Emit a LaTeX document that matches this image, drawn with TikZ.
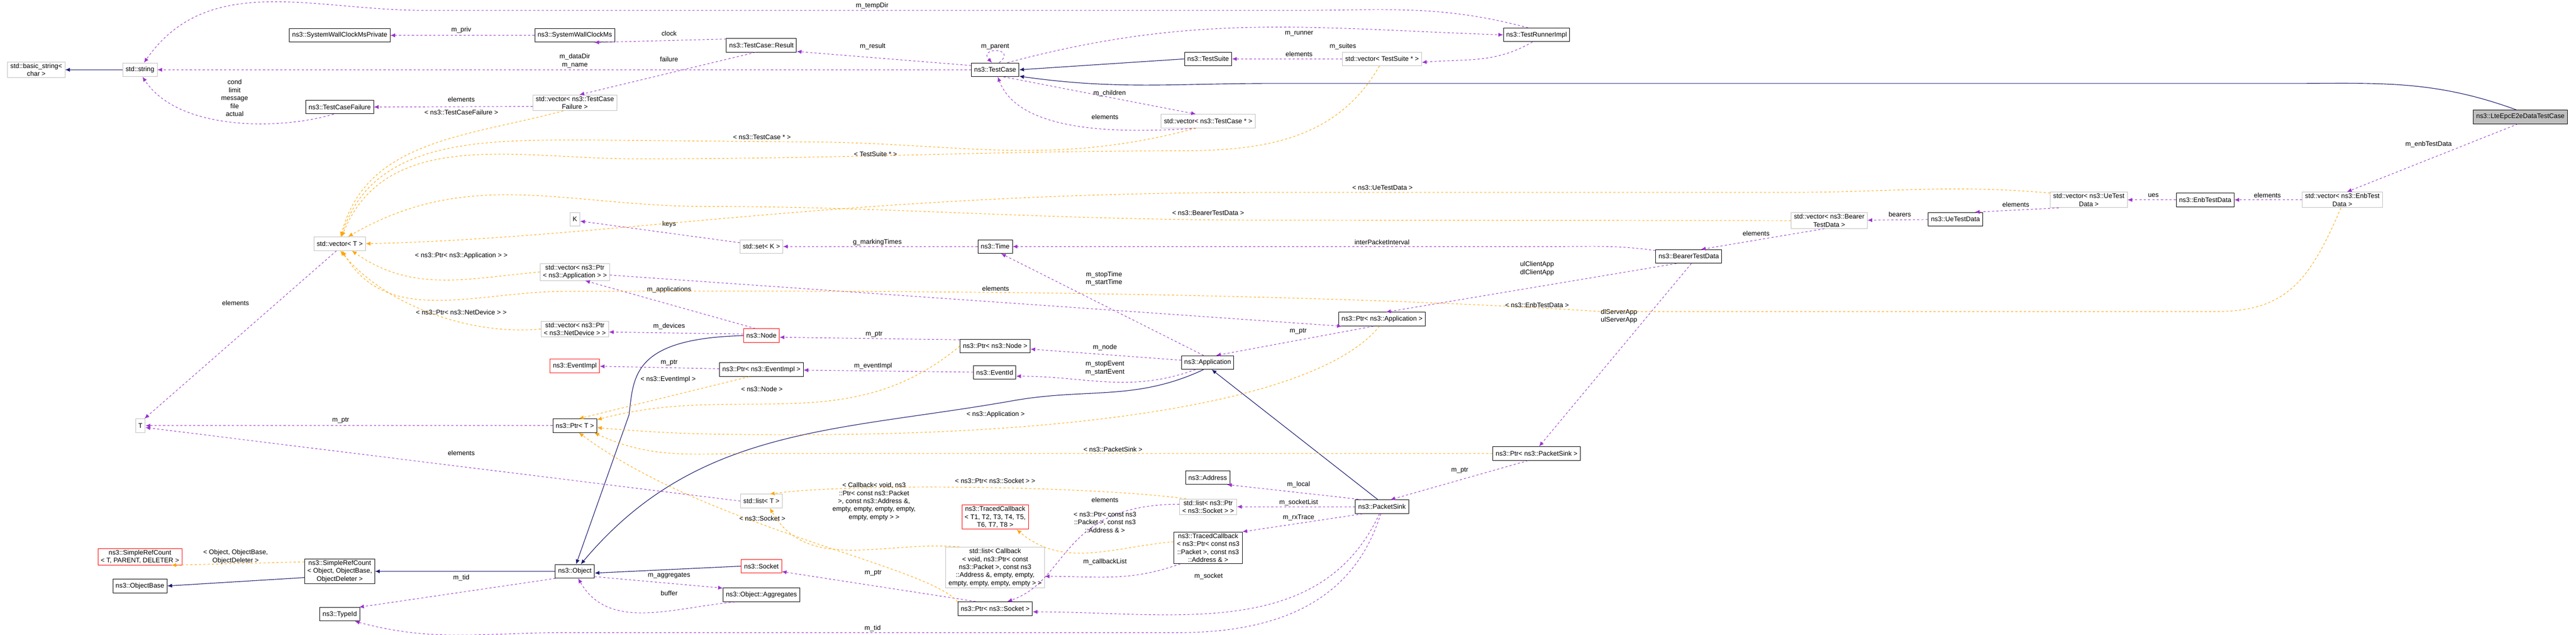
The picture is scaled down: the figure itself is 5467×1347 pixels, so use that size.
\documentclass[tikz,border=0pt]{standalone}
\usepackage{fontspec}
\setmainfont{Liberation Sans}
\usetikzlibrary{arrows.meta, positioning}
\definecolor{usecol}{HTML}{9A32CD}
\definecolor{inhcol}{HTML}{191970}
\definecolor{tplcol}{HTML}{FFA500}
\definecolor{undoc}{HTML}{BFBFBF}
\newcommand{\dx}{\fontsize{8pt}{9.6pt}\selectfont}
\tikzset{
  box/.style={rectangle, draw=black, fill=white, font=\dx, inner xsep=0.12cm, inner ysep=0.06cm, minimum height=0.58cm, align=center, line width=0.6pt},
  tbox/.style={box, draw=undoc},
  rbox/.style={box, draw=red},
  sbox/.style={box, fill=undoc},
  lbl/.style={font=\dx, align=center, inner sep=0pt, fill=none},
  use/.style={draw=usecol, line width=0.6pt, dash pattern=on 2.6pt off 2.6pt, -{Latex[length=0.2cm,width=0.17cm]}},
  inh/.style={draw=inhcol, line width=0.7pt, -{Latex[length=0.2cm,width=0.17cm]}},
  inst/.style={draw=tplcol, line width=0.6pt, dash pattern=on 2.6pt off 2.6pt, -{Latex[length=0.2cm,width=0.17cm]}}
}
\begin{document}
\begin{tikzpicture}[x=0.02cm, y=-0.02cm]
\useasboundingbox (0,0) rectangle (5467,1347);
% classes
\node[tbox] (basicstr) at (77,148) {std::basic\_string\textless\\char \textgreater};
\node[tbox] (stdstr) at (297,148) {std::string};
\node[box] (swcpriv) at (721,75) {ns3::SystemWallClockMsPrivate};
\node[box] (swc) at (1220,75) {ns3::SystemWallClockMs};
\node[box] (tcfail) at (721,227) {ns3::TestCaseFailure};
\node[tbox] (vtcfail) at (1220,218) {std::vector\textless{} ns3::TestCase\\Failure \textgreater};
\node[tbox] (vecT) at (721,517) {std::vector\textless{} T \textgreater};
\node[tbox] (kk) at (1220,465) {K};
\node[tbox] (vptrapp) at (1220,577) {std::vector\textless{} ns3::Ptr\\\textless{} ns3::Application \textgreater{} \textgreater};
\node[tbox] (vptrdev) at (1220,698) {std::vector\textless{} ns3::Ptr\\\textless{} ns3::NetDevice \textgreater{} \textgreater};
\node[rbox] (evimpl) at (1220,776) {ns3::EventImpl};
\node[tbox] (tt) at (298,903) {T};
\node[box] (ptrT) at (1220,903) {ns3::Ptr\textless{} T \textgreater};
\node[rbox] (srcT) at (297,1181) {ns3::SimpleRefCount\\\textless{} T, PARENT, DELETER \textgreater};
\node[box] (srcObj) at (721,1212) {ns3::SimpleRefCount\\\textless{} Object, ObjectBase,\\ObjectDeleter \textgreater};
\node[box] (objbase) at (297,1243) {ns3::ObjectBase};
\node[box] (obj) at (1220,1212) {ns3::Object};
\node[box] (typeid) at (721,1303) {ns3::TypeId};
\node[box] (tcresult) at (1616,96) {ns3::TestCase::Result};
\node[box] (testcase) at (2112,148) {ns3::TestCase};
\node[box] (testsuite) at (2564,125) {ns3::TestSuite};
\node[tbox] (vtcptr) at (2564,257) {std::vector\textless{} ns3::TestCase * \textgreater};
\node[tbox] (setk) at (1616,523) {std::set\textless{} K \textgreater};
\node[box] (ttime) at (2112,523) {ns3::Time};
\node[rbox] (node) at (1616,712) {ns3::Node};
\node[box] (ptrnode) at (2112,734) {ns3::Ptr\textless{} ns3::Node \textgreater};
\node[box] (ptrevimpl) at (1616,784) {ns3::Ptr\textless{} ns3::EventImpl \textgreater};
\node[box] (eventid) at (2111,790) {ns3::EventId};
\node[box] (app) at (2563,769) {ns3::Application};
\node[box] (address) at (2563,1013) {ns3::Address};
\node[tbox] (listT) at (1616,1063) {std::list\textless{} T \textgreater};
\node[tbox] (lptrsock) at (2564,1075) {std::list\textless{} ns3::Ptr\\\textless{} ns3::Socket \textgreater{} \textgreater};
\node[rbox] (tcbT) at (2112,1097) {ns3::TracedCallback\\\textless{} T1, T2, T3, T4, T5,\\T6, T7, T8 \textgreater};
\node[box] (tcbpkt) at (2564,1162) {ns3::TracedCallback\\\textless{} ns3::Ptr\textless{} const ns3\\::Packet \textgreater, const ns3\\::Address \& \textgreater};
\node[tbox] (lcallback) at (2112,1204) {std::list\textless{} Callback\\\textless{} void, ns3::Ptr\textless{} const\\ns3::Packet \textgreater, const ns3\\::Address \&, empty, empty,\\empty, empty, empty, empty \textgreater{} \textgreater};
\node[rbox] (socket) at (1616,1201) {ns3::Socket};
\node[box] (objaggr) at (1616,1262) {ns3::Object::Aggregates};
\node[box] (ptrsock) at (2112,1291) {ns3::Ptr\textless{} ns3::Socket \textgreater};
\node[box] (trimpl) at (3261,74) {ns3::TestRunnerImpl};
\node[tbox] (vtsptr) at (2933,125) {std::vector\textless{} TestSuite * \textgreater};
\node[tbox] (vbearer) at (3882,468) {std::vector\textless{} ns3::Bearer\\TestData \textgreater};
\node[box] (bearertd) at (3584,544) {ns3::BearerTestData};
\node[box] (ptrapp) at (2933,677) {ns3::Ptr\textless{} ns3::Application \textgreater};
\node[box] (ptrsink) at (3261,962) {ns3::Ptr\textless{} ns3::PacketSink \textgreater};
\node[box] (psink) at (2933,1075) {ns3::PacketSink};
\node[sbox] (lte) at (5349,248) {ns3::LteEpcE2eDataTestCase};
\node[tbox] (venb) at (4971,424) {std::vector\textless{} ns3::EnbTest\\Data \textgreater};
\node[box] (enbtd) at (4680,424) {ns3::EnbTestData};
\node[tbox] (vue) at (4433,424) {std::vector\textless{} ns3::UeTest\\Data \textgreater};
\node[box] (uetd) at (4150,465) {ns3::UeTestData};
% inheritance
\draw[inh] (stdstr) -- (basicstr);
\draw[inh] (testsuite.west) -- (testcase.east);
\draw[inh] (lte.120) to[out=160,in=0] (4860,177) -- (2700,177) to[out=180,in=-8] (testcase.-15);
\draw[inh] (node.west) .. controls (1340,718) and (1345,800) .. (1335,880) -- (obj.80);
\draw[inh] (app.-120) to[out=205,in=10] (2150,850) to[out=190,in=50] (obj.50);
\draw[inh] (socket.west) -- (obj.-5);
\draw[inh] (psink.120) -- (app.-60);
\draw[inh] (obj) -- (srcObj);
\draw[inh] (srcObj.-170) -- (objbase.east);
% usage
\draw[use] (trimpl.140) to[out=165,in=0] (2750,22) -- (900,22) to[out=180,in=55] (stdstr.60) node[lbl, at={(1851,12)}] {m\_tempDir};
\draw[use] (swc) -- (swcpriv) node[lbl, at={(979,64)}] {m\_priv};
\draw[use] (tcresult.170) -- (swc.-20) node[lbl, at={(1420,71)}] {clock};
\draw[use] (testcase) -- (stdstr) node[lbl, at={(1220,129)}] {m\_dataDir\\m\_name};
\draw[use] (tcresult.-130) -- (vtcfail.60) node[lbl, at={(1420,126)}] {failure};
\draw[use] (vtcfail.-175) -- (tcfail.east) node[lbl, at={(979,211)}] {elements};
\draw[use] (tcfail.-130) .. controls (600,275) and (380,280) .. (stdstr.-70) node[lbl, at={(498,208)}] {cond\\limit\\message\\file\\actual};
\draw[use] (testcase.170) -- (tcresult.-10) node[lbl, at={(1852,99)}] {m\_result};
\draw[use] (testcase.60) .. controls (2160,100) and (2075,100) .. (testcase.115) node[lbl, at={(2112,99)}] {m\_parent};
\draw[use] (testcase.30) to[out=15,in=178] (trimpl.west) node[lbl, at={(2757,71)}] {m\_runner};
\draw[use] (vtsptr) -- (testsuite) node[lbl, at={(2757,115)}] {elements};
\draw[use] (trimpl.-120) to[out=210,in=5] (vtsptr.-5) node[lbl, at={(2850,99)}] {m\_suites};
\draw[use] (testcase.-40) -- (vtcptr.150) node[lbl, at={(2355,198)}] {m\_children};
\draw[use] (vtcptr.-150) .. controls (2350,285) and (2160,275) .. (testcase.-70) node[lbl, at={(2345,248)}] {elements};
\draw[use] (lte.-110) -- (venb.60) node[lbl, at={(5154,306)}] {m\_enbTestData};
\draw[use] (venb) -- (enbtd) node[lbl, at={(4812,414)}] {elements};
\draw[use] (enbtd) -- (vue) node[lbl, at={(4570,414)}] {ues};
\draw[use] (vue.-165) -- (uetd.20) node[lbl, at={(4278,434)}] {elements};
\draw[use] (uetd) -- (vbearer) node[lbl, at={(4032,455)}] {bearers};
\draw[use] (vbearer.-120) -- (bearertd.30) node[lbl, at={(3727,495)}] {elements};
\draw[use] (bearertd.170) to[out=172,in=0] (3300,523) -- (ttime.east) node[lbl, at={(2933,514)}] {interPacketInterval};
\draw[use] (ttime) -- (setk) node[lbl, at={(1862,514)}] {g\_markingTimes};
\draw[use] (setk.170) -- (kk.-20) node[lbl, at={(1420,476)}] {keys};
\draw[use] (app.120) -- (ttime.-50) node[lbl, at={(2343,591)}] {m\_stopTime\\m\_startTime};
\draw[use] (bearertd.-150) -- (ptrapp.60) node[lbl, at={(3262,570)}] {ulClientApp\\dlClientApp};
\draw[use] (bearertd.-70) -- (ptrsink.70) node[lbl, at={(3436,671)}] {dlServerApp\\ulServerApp};
\draw[use] (vptrapp.-5) -- (ptrapp.-170) node[lbl, at={(2113,612)}] {elements};
\draw[use] (ptrapp.-140) -- (app.40) node[lbl, at={(2755,703)}] {m\_ptr};
\draw[use] (node.130) -- (vptrapp.-40) node[lbl, at={(1420,615)}] {m\_applications};
\draw[use] (node.175) -- (vptrdev.-5) node[lbl, at={(1420,692)}] {m\_devices};
\draw[use] (ptrnode.170) -- (node.-5) node[lbl, at={(1855,709)}] {m\_ptr};
\draw[use] (app.175) -- (ptrnode.-5) node[lbl, at={(2345,737)}] {m\_node};
\draw[use] (app.-150) to[out=200,in=0] (eventid.-10) node[lbl, at={(2345,781)}] {m\_stopEvent\\m\_startEvent};
\draw[use] (eventid) -- (ptrevimpl) node[lbl, at={(1853,776)}] {m\_eventImpl};
\draw[use] (ptrevimpl) -- (evimpl) node[lbl, at={(1420,769)}] {m\_ptr};
\draw[use] (ptrT) -- (tt) node[lbl, at={(723,892)}] {m\_ptr};
\draw[use] (listT.west) -- (tt.-20) node[lbl, at={(979,961)}] {elements};
\draw[use] (vecT.-115) -- (tt.60) node[lbl, at={(500,643)}] {elements};
\draw[use] (obj.-160) -- (typeid.20) node[lbl, at={(979,1226)}] {m\_tid};
\draw[use] (psink.-100) .. controls (2880,1250) and (2750,1342) .. (2500,1342) -- (1200,1342) to[out=180,in=-15] (typeid.-25) node[lbl, at={(1852,1333)}] {m\_tid};
\draw[use] (obj.-15) -- (objaggr.170) node[lbl, at={(1420,1221)}] {m\_aggregates};
\draw[use] (objaggr.-165) to[out=185,in=-60] (obj.-65) node[lbl, at={(1420,1258)}] {buffer};
\draw[use] (ptrsock.160) -- (socket.-15) node[lbl, at={(1853,1215)}] {m\_ptr};
\draw[use] (psink.-110) to[out=-115,in=0] (ptrsock.-5) node[lbl, at={(2565,1223)}] {m\_socket};
\draw[use] (lptrsock.175) .. controls (2250,1070) and (2270,1230) .. (ptrsock.30) node[lbl, at={(2345,1061)}] {elements};
\draw[use] (tcbpkt.-150) to[out=200,in=0] (lcallback.-10) node[lbl, at={(2345,1192)}] {m\_callbackList};
\draw[use] (psink.160) -- (address.-20) node[lbl, at={(2756,1028)}] {m\_local};
\draw[use] (psink) -- (lptrsock) node[lbl, at={(2756,1066)}] {m\_socketList};
\draw[use] (psink.-160) -- (tcbpkt.25) node[lbl, at={(2756,1098)}] {m\_rxTrace};
\draw[use] (ptrsink.-140) -- (psink.40) node[lbl, at={(3098,998)}] {m\_ptr};
% templates
\draw[inst] (srcObj.165) -- (srcT.-15) node[lbl, at={(500,1181)}] {\textless{} Object, ObjectBase,\\ObjectDeleter \textgreater};
\draw[inst] (vtcfail.-145) to[out=195,in=75] (vecT.82) node[lbl, at={(979,238)}] {\textless{} ns3::TestCaseFailure \textgreater};
\draw[inst] (vtcptr.-150) to[out=195,in=0] (1700,301) -- (1250,297) to[out=180,in=72] (vecT.78) node[lbl, at={(1617,291)}] {\textless{} ns3::TestCase * \textgreater};
\draw[inst] (vtsptr.-110) to[out=240,in=0] (2500,320) .. controls (2100,320) and (1800,337) .. (1350,337) to[out=180,in=68] (vecT.74) node[lbl, at={(1858,327)}] {\textless{} TestSuite * \textgreater};
\draw[inst] (vue.170) to[out=175,in=0] (3800,408) -- (2700,408) .. controls (1800,408) and (1300,505) .. (vecT.east) node[lbl, at={(2934,398)}] {\textless{} ns3::UeTestData \textgreater};
\draw[inst] (vbearer.west) -- (2700,467) .. controls (2200,467) and (1900,438) .. (1500,438) to[out=180,in=30] (vecT.40) node[lbl, at={(2564,452)}] {\textless{} ns3::BearerTestData \textgreater};
\draw[inst] (venb.-100) .. controls (4900,600) and (4850,661) .. (4700,661) -- (3400,661) .. controls (2600,610) and (1500,618) .. (1200,618) to[out=180,in=-60] (vecT.-70) node[lbl, at={(3262,647)}] {\textless{} ns3::EnbTestData \textgreater};
\draw[inst] (vptrapp.west) to[out=185,in=-35] (vecT.-30) node[lbl, at={(979,543)}] {\textless{} ns3::Ptr\textless{} ns3::Application \textgreater{} \textgreater};
\draw[inst] (vptrdev.west) .. controls (1000,712) and (820,650) .. (vecT.-85) node[lbl, at={(979,663)}] {\textless{} ns3::Ptr\textless{} ns3::NetDevice \textgreater{} \textgreater};
\draw[inst] (ptrevimpl.-150) -- (ptrT.60) node[lbl, at={(1418,805)}] {\textless{} ns3::EventImpl \textgreater};
\draw[inst] (ptrnode.west) to[out=220,in=15] (ptrT.15) node[lbl, at={(1617,825)}] {\textless{} ns3::Node \textgreater};
\draw[inst] (ptrapp.-110) .. controls (2800,850) and (2300,922) .. (1700,922) to[out=180,in=-5] (ptrT.-5) node[lbl, at={(2113,879)}] {\textless{} ns3::Application \textgreater};
\draw[inst] (ptrsink.west) -- (1600,962) to[out=180,in=-25] (ptrT.-20) node[lbl, at={(2362,953)}] {\textless{} ns3::PacketSink \textgreater};
\draw[inst] (ptrsock.170) .. controls (1970,1200) and (1500,1120) .. (ptrT.-60) node[lbl, at={(1618,1100)}] {\textless{} ns3::Socket \textgreater};
\draw[inst] (lptrsock.160) .. controls (2300,1030) and (1800,1025) .. (listT.40) node[lbl, at={(2112,1020)}] {\textless{} ns3::Ptr\textless{} ns3::Socket \textgreater{} \textgreater};
\draw[inst] (lcallback.150) to[out=175,in=-60] (listT.-40) node[lbl, at={(1855,1064)}] {\textless{} Callback\textless{} void, ns3\\::Ptr\textless{} const ns3::Packet\\\textgreater, const ns3::Address \&,\\empty, empty, empty, empty,\\empty, empty \textgreater{} \textgreater};
\draw[inst] (tcbpkt.170) to[out=185,in=-40] (tcbT.-30) node[lbl, at={(2345,1108)}] {\textless{} ns3::Ptr\textless{} const ns3\\::Packet \textgreater, const ns3\\::Address \& \textgreater};
\end{tikzpicture}
\end{document}
